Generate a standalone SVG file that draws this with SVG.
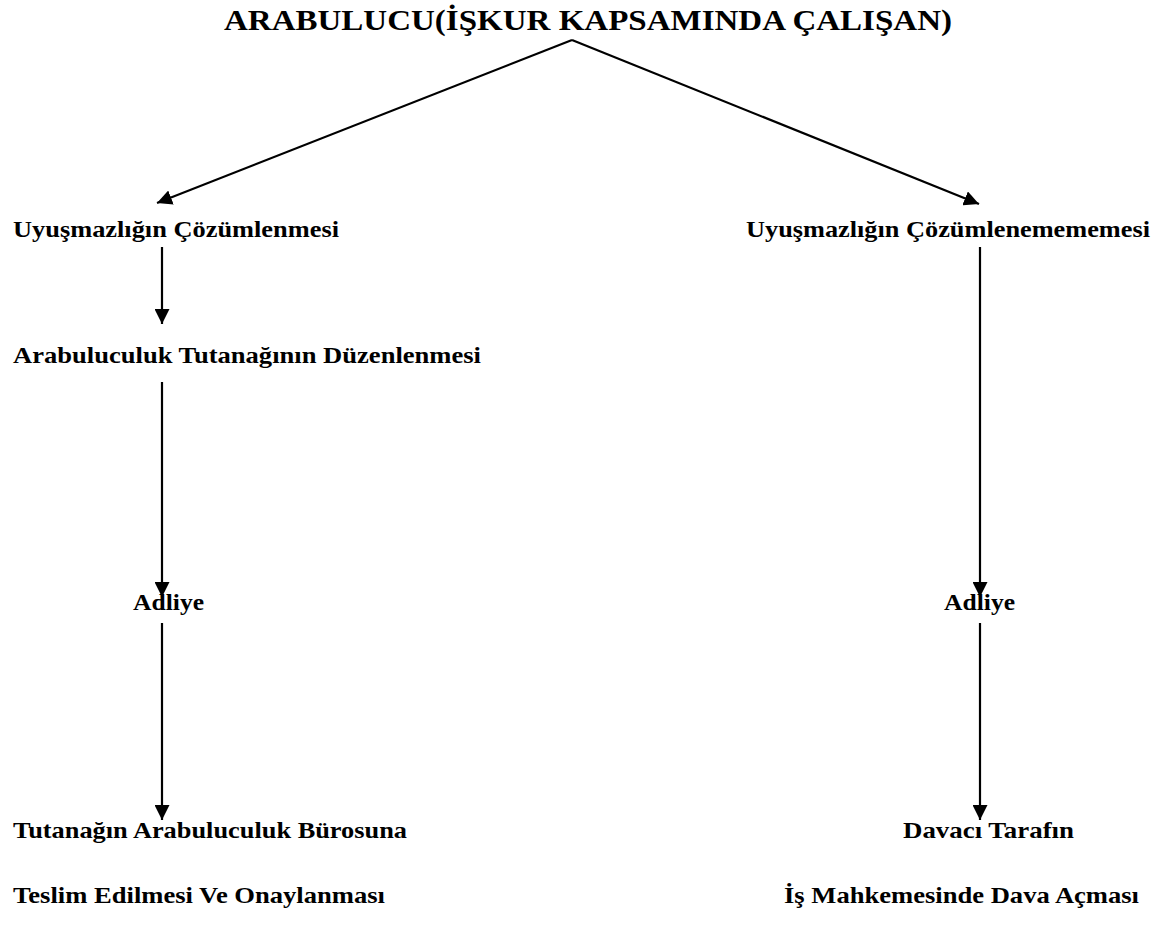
<svg xmlns="http://www.w3.org/2000/svg" width="1154" height="931" viewBox="0 0 1154 931">
<style>
text{font-family:"Liberation Serif","Times New Roman",serif;font-weight:bold;fill:#000}
.t{font-size:29px}
.b{font-size:23px}
.c{stroke:#000;stroke-width:2.2;fill:none}
</style>
<defs>
<marker id="ah" markerUnits="userSpaceOnUse" markerWidth="16" markerHeight="15" refX="15" refY="7.5" orient="auto">
<path d="M0,0 L15,7.5 L0,15 z" fill="#000"/>
</marker>
</defs>
<rect width="1154" height="931" fill="#fff"/>
<g id="connectors">
<line class="c" x1="572" y1="40" x2="157" y2="203" marker-end="url(#ah)"/>
<line class="c" x1="572" y1="40" x2="979" y2="204" marker-end="url(#ah)"/>
<line class="c" x1="162" y1="247" x2="162" y2="324" marker-end="url(#ah)"/>
<line class="c" x1="162" y1="382" x2="162" y2="597" marker-end="url(#ah)"/>
<line class="c" x1="162" y1="623" x2="162" y2="820" marker-end="url(#ah)"/>
<line class="c" x1="980" y1="247" x2="980" y2="597" marker-end="url(#ah)"/>
<line class="c" x1="980" y1="623" x2="980" y2="820" marker-end="url(#ah)"/>
</g>
<g id="n-title"><text class="t" x="224" y="30" textLength="728" lengthAdjust="spacingAndGlyphs">ARABULUCU(İŞKUR KAPSAMINDA ÇALIŞAN)</text></g>
<g id="n-cozum"><text class="b" x="13" y="237" textLength="326" lengthAdjust="spacingAndGlyphs">Uyuşmazlığın Çözümlenmesi</text></g>
<g id="n-cozumsuz"><text class="b" x="746" y="237" textLength="404" lengthAdjust="spacingAndGlyphs">Uyuşmazlığın Çözümlenemememesi</text></g>
<g id="n-tutanak"><text class="b" x="13" y="363" textLength="468" lengthAdjust="spacingAndGlyphs">Arabuluculuk Tutanağının Düzenlenmesi</text></g>
<g id="n-adliye-l"><text class="b" x="133" y="610" textLength="71" lengthAdjust="spacingAndGlyphs">Adliye</text></g>
<g id="n-adliye-r"><text class="b" x="944" y="610" textLength="71" lengthAdjust="spacingAndGlyphs">Adliye</text></g>
<g id="n-teslim"><text class="b" x="13" y="838" textLength="394" lengthAdjust="spacingAndGlyphs">Tutanağın Arabuluculuk Bürosuna</text><text class="b" x="13" y="903" textLength="372" lengthAdjust="spacingAndGlyphs">Teslim Edilmesi Ve Onaylanması</text></g>
<g id="n-dava"><text class="b" x="903" y="838" textLength="171" lengthAdjust="spacingAndGlyphs">Davacı Tarafın</text><text class="b" x="784" y="903" textLength="355" lengthAdjust="spacingAndGlyphs">İş Mahkemesinde Dava Açması</text></g>
</svg>
